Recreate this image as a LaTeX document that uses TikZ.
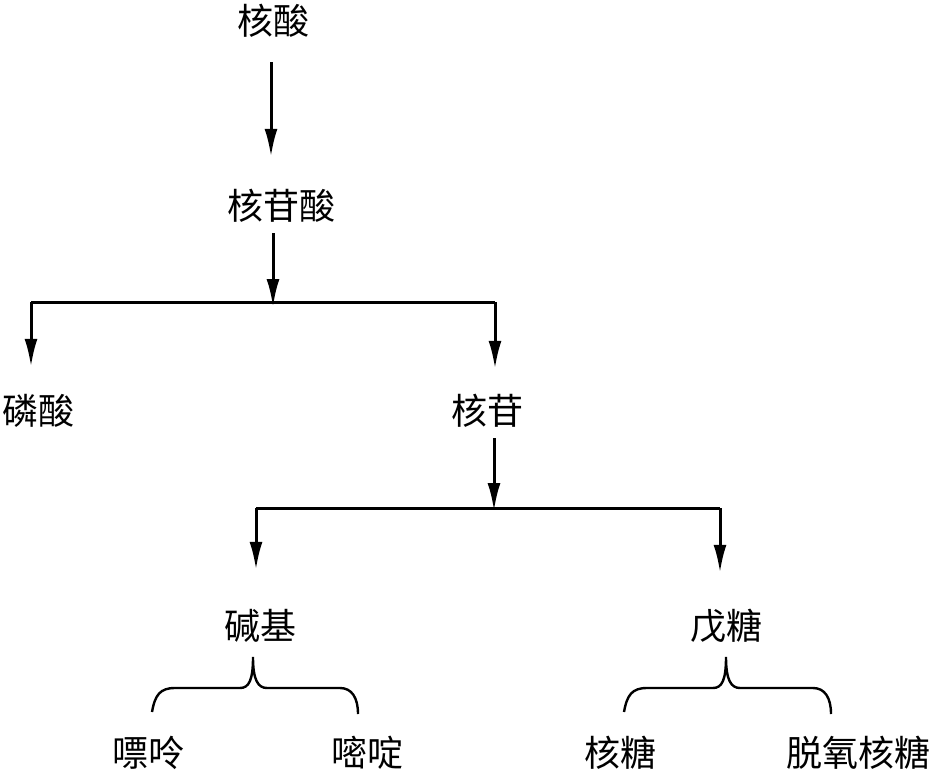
\documentclass[tikz,border=0pt]{standalone}
\usepackage{fontspec}
\newfontfamily\cjk{Noto Sans CJK SC}
\usetikzlibrary{arrows.meta, positioning}

\begin{document}
\begin{tikzpicture}[x=1pt,y=-1pt,
    lbl/.style={font=\cjk\fontsize{36}{40}\selectfont, inner sep=0pt, text height=32pt, text depth=4pt},
    arr/.style={draw=black, line width=3pt, -{Latex[length=28pt,width=13pt]}},
    ln/.style={draw=black, line width=3pt},
    brace/.style={draw=black, line width=2.4pt}]
        \useasboundingbox (0,0) rectangle (937,774);
        \begin{scope}[every node/.style={lbl}]
          \node (hs) at (273,20) {核酸};
          \node (hgs) at (281,205) {核苷酸};
          \node (ls) at (38,410) {磷酸};
          \node (hg) at (487,410) {核苷};
          \node (jj) at (260,625) {碱基};
          \node (wt) at (726,625) {戊糖};
          \node (pl) at (148,752) {嘌呤};
          \node (md) at (367,752) {嘧啶};
          \node (ht) at (620,752) {核糖};
          \node (tyht) at (858,752) {脱氧核糖};
        \end{scope}
        \coordinate (b1) at (273,302);
        \coordinate (b2) at (494,508);
        \draw[arr, shorten <=24pt, shorten >=30pt] ([xshift=-2pt]hs.south) -- ([xshift=-2pt]hs.south |- hgs.north);
        \draw[arr, shorten <=10pt, shorten >=-5pt] (hgs.south -| b1) -- (b1);
        \draw[arr, shorten <=10pt, shorten >=-3pt] ([xshift=7pt]hg.south) -- (b2);
        % branches
        \draw[ln] ([xshift=-7pt]ls.north |- b1) -- ([xshift=8pt]hg.north |- b1);
        \draw[arr, shorten >=25pt] ([xshift=-7pt]ls.north |- b1) -- ([xshift=-7pt]ls.north);
        \draw[arr, shorten >=23pt] ([xshift=8pt]hg.north |- b1) -- ([xshift=8pt]hg.north);
        \draw[ln] ([xshift=-4pt]jj.north |- b2) -- ([xshift=-6pt]wt.north |- b2);
        \draw[arr, shorten >=37pt] ([xshift=-4pt]jj.north |- b2) -- ([xshift=-4pt]jj.north);
        \draw[arr, shorten >=34pt] ([xshift=-6pt]wt.north |- b2) -- ([xshift=-6pt]wt.north);
        % braces
        \draw[brace] (152,712) .. controls (155,695) and (160,688) .. (175,688) -- (240,688)
          .. controls (249,688) and (253,680) .. (253,657) .. controls (253,680) and (258,688) .. (267,688)
          -- (340,688) .. controls (352,688) and (358,698) .. (358,714);
        \draw[brace] (624,712) .. controls (627,695) and (632,688) .. (647,688) -- (713,688)
          .. controls (722,688) and (726,680) .. (726,657) .. controls (726,680) and (731,688) .. (740,688)
          -- (813,688) .. controls (825,688) and (831,698) .. (831,714);
      \end{tikzpicture}
\end{document}
